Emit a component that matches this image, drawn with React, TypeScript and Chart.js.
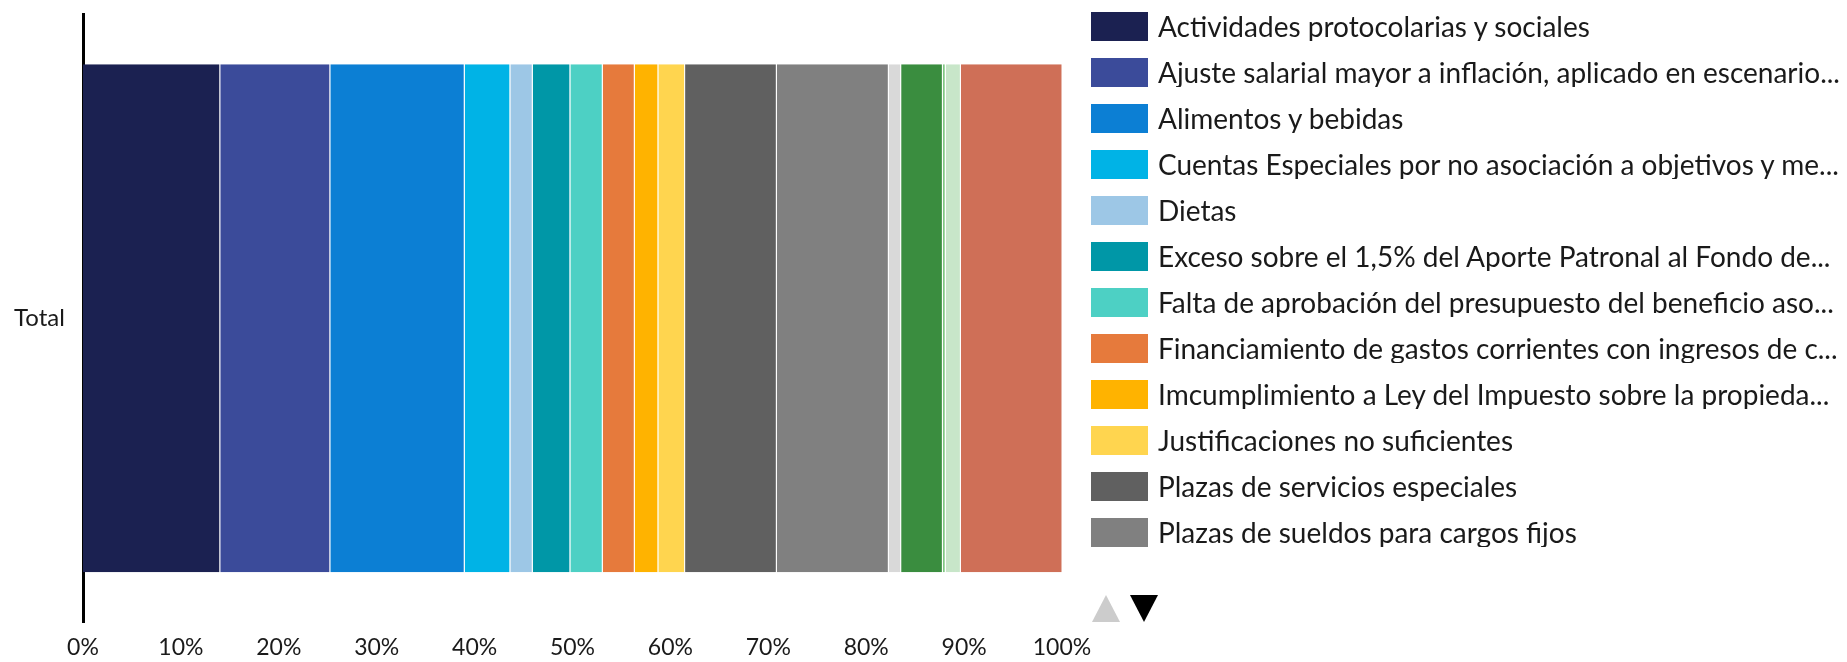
import React, { useEffect, useRef, useState } from 'react';
import { Chart, registerables } from 'chart.js';

Chart.register(...registerables);

const categories = ['Total'];

const seriesNames = [
  'Actividades protocolarias y sociales',
  'Ajuste salarial mayor a inflación, aplicado en escenario de déficit',
  'Alimentos y bebidas',
  'Cuentas Especiales por no asociación a objetivos y metas',
  'Dietas',
  'Exceso sobre el 1,5% del Aporte Patronal al Fondo de Capitalización',
  'Falta de aprobación del presupuesto del beneficio asociado',
  'Financiamiento de gastos corrientes con ingresos de capital',
  'Imcumplimiento a Ley del Impuesto sobre la propiedad de bienes inmuebles',
  'Justificaciones no suficientes',
  'Plazas de servicios especiales',
  'Plazas de sueldos para cargos fijos',
  'Pluses salariales sin respaldo',
  'Remuneraciones no autorizadas',
  'Servicios de gestión y apoyo',
  'Transferencias sin respaldo',
  'Viáticos y gastos de viaje',
];

const seriesValues = [
  14.02, 11.24, 13.73, 4.66, 2.29, 3.84, 3.31, 3.27, 2.41, 2.73, 9.37, 11.44,
  1.26, 4.26, 0.29, 1.55, 10.38,
];

const seriesColors = [
  '#1b2151', '#3b4b9a', '#0c7fd4', '#00b3e6', '#9dc7e6', '#0097a7',
  '#4dd0c4', '#e67a3c', '#ffb300', '#ffd54f', '#606060', '#808080',
  '#d9d9d9', '#3a8d3f', '#81c784', '#c8e6c9', '#cf6f57',
];

const xTickValues = [0, 10, 20, 30, 40, 50, 60, 70, 80, 90, 100];
const legendVisibleCount = 12;

const W = 1847;
const H = 662;
const FONT = 'Lato';
const LEGEND_FONT = `28px ${FONT}`;
const LEGEND_TEXT_MAX = 684;

function truncate(text: string, ctx: CanvasRenderingContext2D, maxW: number): string {
  if (ctx.measureText(text).width <= maxW) return text;
  let cut = text.length;
  while (cut > 0) {
    const candidate = text.slice(0, cut).trimEnd() + '...';
    if (ctx.measureText(candidate).width <= maxW) return candidate;
    cut--;
  }
  return '...';
}

export default function App() {
  const canvasRef = useRef<HTMLCanvasElement | null>(null);
  const [legendTexts, setLegendTexts] = useState<string[] | null>(null);

  useEffect(() => {
    let chart: Chart | null = null;
    let cancelled = false;
    const make = () => {
      if (cancelled || !canvasRef.current) return;
      const m = document.createElement('canvas').getContext('2d');
      if (m) {
        m.font = LEGEND_FONT;
        setLegendTexts(seriesNames.map((n) => truncate(n, m, LEGEND_TEXT_MAX)));
      } else {
        setLegendTexts(seriesNames.slice());
      }
      chart = new Chart(canvasRef.current, {
        type: 'bar',
        data: {
          labels: categories,
          datasets: seriesNames.map((name, i) => ({
            label: name,
            data: [seriesValues[i]],
            backgroundColor: seriesColors[i],
            borderColor: 'rgba(255,255,255,0.85)',
            borderWidth: { top: 0, right: 1, bottom: 0, left: 0 },
            barPercentage: 0.836,
            categoryPercentage: 1,
          })),
        },
        options: {
          indexAxis: 'y',
          animation: false,
          responsive: false,
          maintainAspectRatio: false,
          layout: { padding: { left: 14, right: W - 1062, top: 12, bottom: 0 } },
          plugins: {
            legend: { display: false },
            tooltip: { enabled: false },
          },
          scales: {
            x: {
              stacked: true,
              min: 0,
              max: 100,
              afterBuildTicks: (scale: any) => {
                scale.ticks = xTickValues.map((v) => ({ value: v }));
              },
              afterFit: (scale: any) => {
                scale.height = 40;
              },
              ticks: {
                callback: (v: any) => `${v}%`,
                font: { family: FONT, size: 23 },
                color: '#1a1a1a',
                padding: 12,
                maxRotation: 0,
                autoSkip: false,
              },
              grid: { display: false, drawTicks: false },
              border: { display: false },
            },
            y: {
              stacked: true,
              afterFit: (scale: any) => {
                scale.width = 69;
              },
              ticks: {
                font: { family: FONT, size: 24 },
                color: '#1a1a1a',
                padding: 0,
                crossAlign: 'far',
              },
              grid: { display: false, drawTicks: false },
              border: { display: true, color: '#000', width: 3 },
            },
          },
        },
      });
    };
    const fonts: any = (document as any).fonts;
    if (fonts && fonts.load) {
      Promise.all([fonts.load(`23px ${FONT}`), fonts.load(LEGEND_FONT)])
        .catch(() => {})
        .then(make);
    } else {
      make();
    }
    return () => {
      cancelled = true;
      if (chart) chart.destroy();
    };
  }, []);

  const texts = legendTexts || seriesNames;

  return (
    <div
      style={{
        position: 'absolute',
        left: 0,
        top: 0,
        width: W,
        height: H,
        background: '#fff',
        overflow: 'hidden',
        fontFamily: FONT,
      }}
    >
      <canvas ref={canvasRef} width={W} height={H} style={{ position: 'absolute', left: 0, top: 0, width: W, height: H }} />
      {seriesNames.slice(0, legendVisibleCount).map((name, i) => (
        <div
          key={name}
          style={{
            position: 'absolute',
            left: 1091,
            top: 12 + i * 46,
            height: 29,
            display: 'flex',
            alignItems: 'center',
          }}
        >
          <span style={{ display: 'inline-block', flex: 'none', width: 57, height: 29, background: seriesColors[i] }} />
          <span
            style={{
              marginLeft: 10,
              width: LEGEND_TEXT_MAX + 10,
              font: LEGEND_FONT,
              lineHeight: '29px',
              color: '#1a1a1a',
              whiteSpace: 'nowrap',
              overflow: 'hidden',
            }}
          >
            {texts[i]}
          </span>
        </div>
      ))}
      <div
        style={{
          position: 'absolute',
          left: 1092,
          top: 595,
          width: 0,
          height: 0,
          borderLeft: '14px solid transparent',
          borderRight: '14px solid transparent',
          borderBottom: '27px solid #cccccc',
        }}
      />
      <div
        style={{
          position: 'absolute',
          left: 1130,
          top: 595,
          width: 0,
          height: 0,
          borderLeft: '14px solid transparent',
          borderRight: '14px solid transparent',
          borderTop: '27px solid #000000',
        }}
      />
    </div>
  );
}
